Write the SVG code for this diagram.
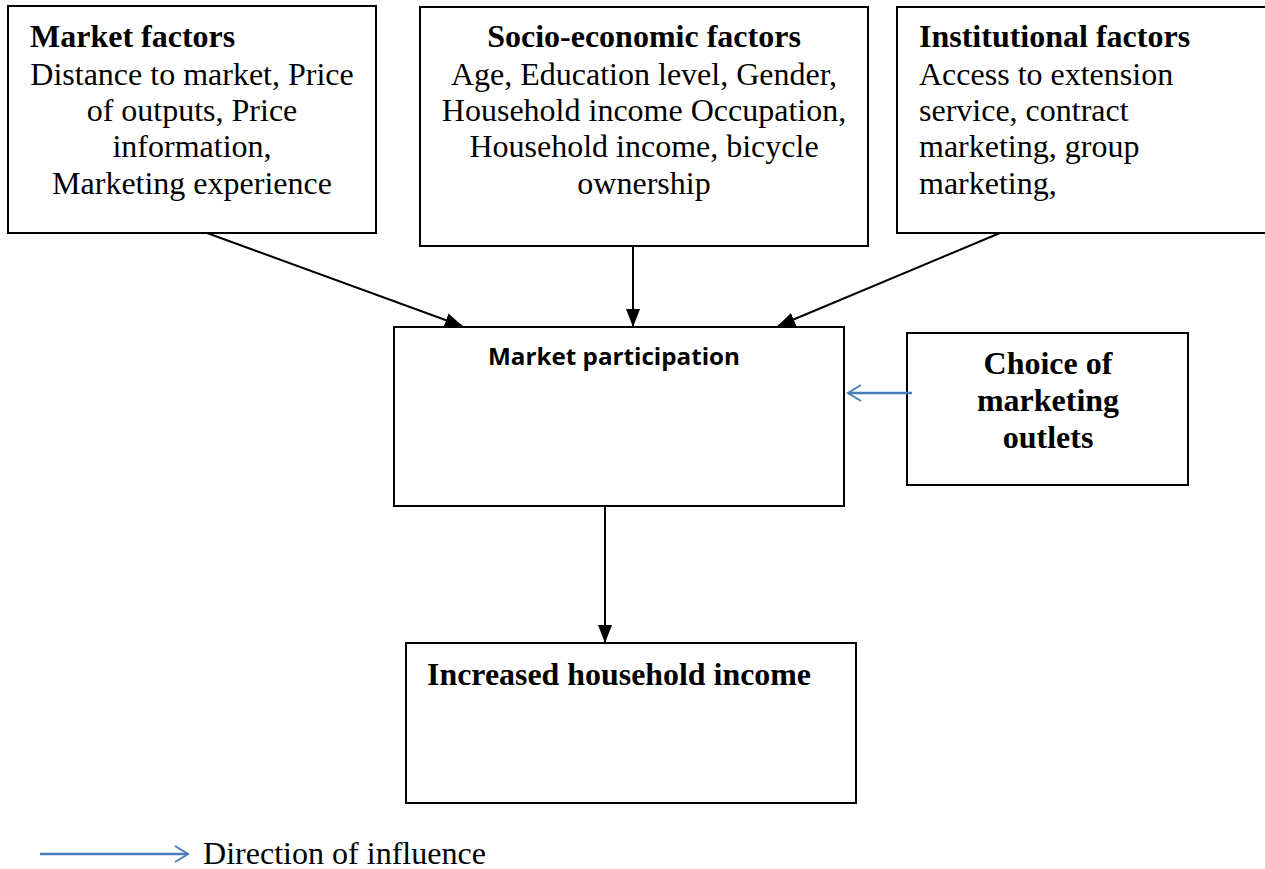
<svg xmlns="http://www.w3.org/2000/svg" width="1265" height="869" viewBox="0 0 1265 869">
<style>
.box{fill:#fff;stroke:#000;stroke-width:2}
.t{font-family:"Liberation Serif","Times New Roman",serif;font-size:32px;fill:#000}
.b{font-weight:bold}
.c{text-anchor:middle}
.conn{stroke:#000;stroke-width:2;fill:none}
.blue{stroke:#4a7ebb;stroke-width:2.5;fill:none}
</style>
<defs>
<marker id="ab" markerWidth="18" markerHeight="18" refX="16" refY="9" orient="auto" markerUnits="userSpaceOnUse" viewBox="0 0 18 18">
<path d="M3,1 L16,9 L3,17" fill="none" stroke="#4a7ebb" stroke-width="2"/>
</marker>
<marker id="ahl" markerWidth="18" markerHeight="18" refX="17" refY="9" orient="auto" markerUnits="userSpaceOnUse" viewBox="0 0 18 18">
<path d="M0,2 L18,9 L0,16 z" fill="#000"/>
</marker>
</defs>
<g id="market-factors">
<rect class="box" x="8" y="6" width="368" height="227"/>
<text class="t b" x="30" y="47">Market factors</text>
<text class="t c" x="192" y="85">Distance to market, Price</text>
<text class="t c" x="192" y="121">of outputs, Price</text>
<text class="t c" x="192" y="157">information,</text>
<text class="t c" x="192" y="194">Marketing experience</text>
</g>
<g id="socio-economic-factors">
<rect class="box" x="420" y="7" width="448" height="239"/>
<text class="t b c" x="644" y="47">Socio-economic factors</text>
<text class="t c" x="644" y="85">Age, Education level, Gender,</text>
<text class="t c" x="644" y="121">Household income Occupation,</text>
<text class="t c" x="644" y="157">Household income, bicycle</text>
<text class="t c" x="644" y="194">ownership</text>
</g>
<g id="institutional-factors">
<rect class="box" x="897" y="7" width="380" height="226"/>
<text class="t b" x="919" y="47">Institutional factors</text>
<text class="t" x="919" y="85">Access to extension</text>
<text class="t" x="919" y="121">service, contract</text>
<text class="t" x="919" y="157">marketing, group</text>
<text class="t" x="919" y="194">marketing,</text>
</g>
<g id="market-participation">
<rect class="box" x="394" y="327" width="450" height="179"/>
<text x="488" y="365" font-family="'Open Sans','Liberation Sans',sans-serif" font-weight="bold" font-size="24" textLength="252" lengthAdjust="spacingAndGlyphs">Market participation</text>
</g>
<g id="choice-of-marketing-outlets">
<rect class="box" x="907" y="333" width="281" height="152"/>
<text class="t b c" x="1048" y="374" font-size="34">Choice of</text>
<text class="t b c" x="1048" y="411" font-size="34">marketing</text>
<text class="t b c" x="1048" y="448" font-size="34">outlets</text>
</g>
<g id="increased-household-income">
<rect class="box" x="406" y="643" width="450" height="160"/>
<text class="t b" x="427" y="685" font-size="32" textLength="384" lengthAdjust="spacingAndGlyphs">Increased household income</text>
</g>
<g id="connectors">
<line class="conn" x1="207" y1="233" x2="462" y2="326" marker-end="url(#ahl)"/>
<line class="conn" x1="633" y1="246" x2="633" y2="326" marker-end="url(#ahl)"/>
<line class="conn" x1="1000" y1="233" x2="778" y2="326" marker-end="url(#ahl)"/>
<line class="conn" x1="605" y1="506" x2="605" y2="642" marker-end="url(#ahl)"/>
<line class="blue" x1="912" y1="393" x2="848" y2="393" marker-end="url(#ab)"/>
</g>
<g id="legend">
<line class="blue" x1="40" y1="854" x2="188" y2="854" marker-end="url(#ab)"/>
<text class="t" x="203" y="864" font-size="30" textLength="283" lengthAdjust="spacingAndGlyphs">Direction of influence</text>
</g>
</svg>
